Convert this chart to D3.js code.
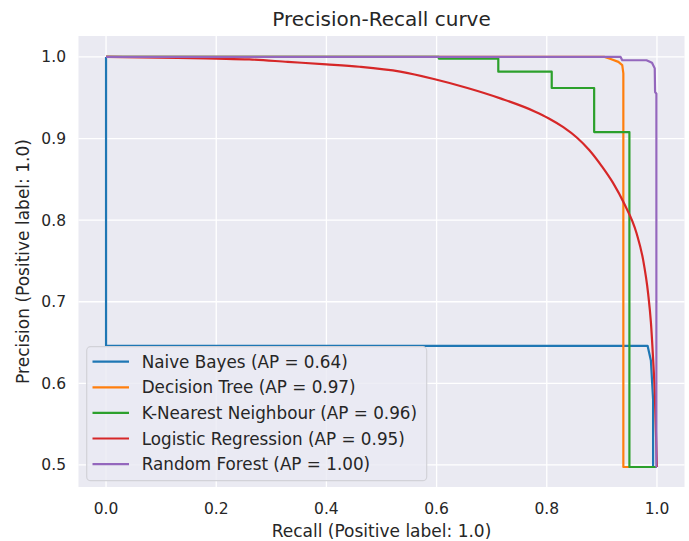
<!DOCTYPE html>
<html>
<head>
<meta charset="utf-8">
<script src="https://cdn.jsdelivr.net/npm/d3@7"></script>
<style>
  body { margin: 0; background: #fff; }
  text { font-family: "DejaVu Sans", sans-serif; fill: #262626; }
</style>
</head>
<body>
<script>
var width = 689,
    height = 541,
    margin = {top: 36, right: 4.5, bottom: 54, left: 78.5};

// data (recall, precision), in increasing recall
var nbRecall = [0, 0, 0.983, 0.989, 0.993, 0.993, 1.0],
    nbPrecision = [1.0, 0.646, 0.646, 0.628, 0.580, 0.4975, 0.4975];

var dtRecall = [0, 0.905, 0.916, 0.930, 0.937, 0.939, 0.939, 1.0],
    dtPrecision = [1.0, 1.0, 0.9975, 0.994, 0.990, 0.980, 0.4975, 0.4975];

var knnRecall = [0, 0.604, 0.604, 0.712, 0.712, 0.809, 0.809, 0.886, 0.886, 0.950, 0.950, 1.0],
    knnPrecision = [1.0, 1.0, 0.998, 0.998, 0.982, 0.982, 0.962, 0.962, 0.908, 0.908, 0.4975, 0.4975];

var lrRecall = [0, 0.13, 0.20, 0.26, 0.33, 0.40, 0.46, 0.534, 0.595, 0.656, 0.717, 0.779, 0.803, 0.83, 0.855, 0.877, 0.90, 0.92, 0.94, 0.963, 0.975, 0.984, 0.989, 0.993, 0.996, 1.0],
    lrPrecision = [1.0, 0.999, 0.998, 0.997, 0.994, 0.991, 0.988, 0.982, 0.973, 0.962, 0.949, 0.933, 0.925, 0.914, 0.901, 0.886, 0.866, 0.846, 0.821, 0.784, 0.751, 0.710, 0.675, 0.630, 0.590, 0.4975];

var rfRecall = [0, 0.934, 0.937, 0.981, 0.991, 0.996, 0.9966, 0.999, 0.999, 1.0],
    rfPrecision = [1.0, 1.0, 0.996, 0.996, 0.993, 0.986, 0.957, 0.955, 0.4975, 0.4975];

var labels = ["Naive Bayes (AP = 0.64)", "Decision Tree (AP = 0.97)",
              "K-Nearest Neighbour (AP = 0.96)", "Logistic Regression (AP = 0.95)",
              "Random Forest (AP = 1.00)"];
var colors = ["#1f77b4", "#ff7f0e", "#2ca02c", "#d62728", "#9467bd"];

var xTicks = [0, 0.2, 0.4, 0.6, 0.8, 1.0],
    yTicks = [0.5, 0.6, 0.7, 0.8, 0.9, 1.0];

var series = [
  [nbRecall, nbPrecision],
  [dtRecall, dtPrecision],
  [knnRecall, knnPrecision],
  [lrRecall, lrPrecision],
  [rfRecall, rfPrecision]
].map(function(s, i) {
  return {
    label: labels[i],
    color: colors[i],
    smooth: i === 3,
    values: s[0].map(function(r, j) { return {r: r, p: s[1][j]}; })
  };
});

var svg = d3.select("body").append("svg")
    .attr("width", width)
    .attr("height", height);

var x = d3.scaleLinear().domain([-0.05, 1.05]).range([margin.left, width - margin.right]),
    y = d3.scaleLinear().domain([0.473, 1.0257]).range([height - margin.bottom, margin.top]);

svg.append("rect")
    .attr("x", margin.left)
    .attr("y", margin.top)
    .attr("width", width - margin.left - margin.right)
    .attr("height", height - margin.top - margin.bottom)
    .attr("fill", "#eaeaf2");

// grid
svg.append("g").selectAll("line")
    .data(xTicks)
    .enter().append("line")
    .attr("x1", function(d) { return x(d); })
    .attr("x2", function(d) { return x(d); })
    .attr("y1", margin.top)
    .attr("y2", height - margin.bottom)
    .attr("stroke", "#fff")
    .attr("stroke-width", 1.3);

svg.append("g").selectAll("line")
    .data(yTicks)
    .enter().append("line")
    .attr("y1", function(d) { return y(d); })
    .attr("y2", function(d) { return y(d); })
    .attr("x1", margin.left)
    .attr("x2", width - margin.right)
    .attr("stroke", "#fff")
    .attr("stroke-width", 1.3);

// tick labels
svg.append("g").selectAll("text")
    .data(xTicks)
    .enter().append("text")
    .attr("x", function(d) { return x(d); })
    .attr("y", 514)
    .attr("text-anchor", "middle")
    .style("font-size", "15.5px")
    .text(function(d) { return d3.format(".1f")(d); });

svg.append("g").selectAll("text")
    .data(yTicks)
    .enter().append("text")
    .attr("x", 66)
    .attr("y", function(d) { return y(d) + 5.5; })
    .attr("text-anchor", "end")
    .style("font-size", "15.5px")
    .text(function(d) { return d3.format(".1f")(d); });

// lines
var line = d3.line()
    .x(function(d) { return x(d.r); })
    .y(function(d) { return y(d.p); });

svg.append("g").selectAll("path")
    .data(series)
    .enter().append("path")
    .attr("fill", "none")
    .attr("stroke", function(d) { return d.color; })
    .attr("stroke-width", 2.2)
    .attr("stroke-linejoin", "round")
    .attr("d", function(d) {
      return line.curve(d.smooth ? d3.curveMonotoneX : d3.curveLinear)(d.values);
    });

// title and axis labels
svg.append("text")
    .attr("x", (margin.left + width - margin.right) / 2)
    .attr("y", 25.5)
    .attr("text-anchor", "middle")
    .style("font-size", "20px")
    .text("Precision-Recall curve");

svg.append("text")
    .attr("x", (margin.left + width - margin.right) / 2)
    .attr("y", 537)
    .attr("text-anchor", "middle")
    .style("font-size", "17px")
    .text("Recall (Positive label: 1.0)");

svg.append("text")
    .attr("transform", "translate(29," + (margin.top + height - margin.bottom) / 2 + ") rotate(-90)")
    .attr("text-anchor", "middle")
    .style("font-size", "17px")
    .text("Precision (Positive label: 1.0)");

// legend
var legend = svg.append("g");

legend.append("rect")
    .attr("x", 86.7)
    .attr("y", 346.7)
    .attr("width", 340)
    .attr("height", 134)
    .attr("rx", 4)
    .attr("fill", "#eaeaf2")
    .attr("fill-opacity", 0.8)
    .attr("stroke", "#d2d2d8")
    .attr("stroke-width", 1.2);

var items = legend.selectAll("g.item")
    .data(series)
    .enter().append("g")
    .attr("class", "item")
    .attr("transform", function(d, i) { return "translate(0," + (361.7 + i * 25.6) + ")"; });

items.append("line")
    .attr("x1", 92.5)
    .attr("x2", 129)
    .attr("stroke", function(d) { return d.color; })
    .attr("stroke-width", 2.2);

items.append("text")
    .attr("x", 141.7)
    .attr("y", 6)
    .style("font-size", "16.8px")
    .text(function(d) { return d.label; });
</script>
</body>
</html>
